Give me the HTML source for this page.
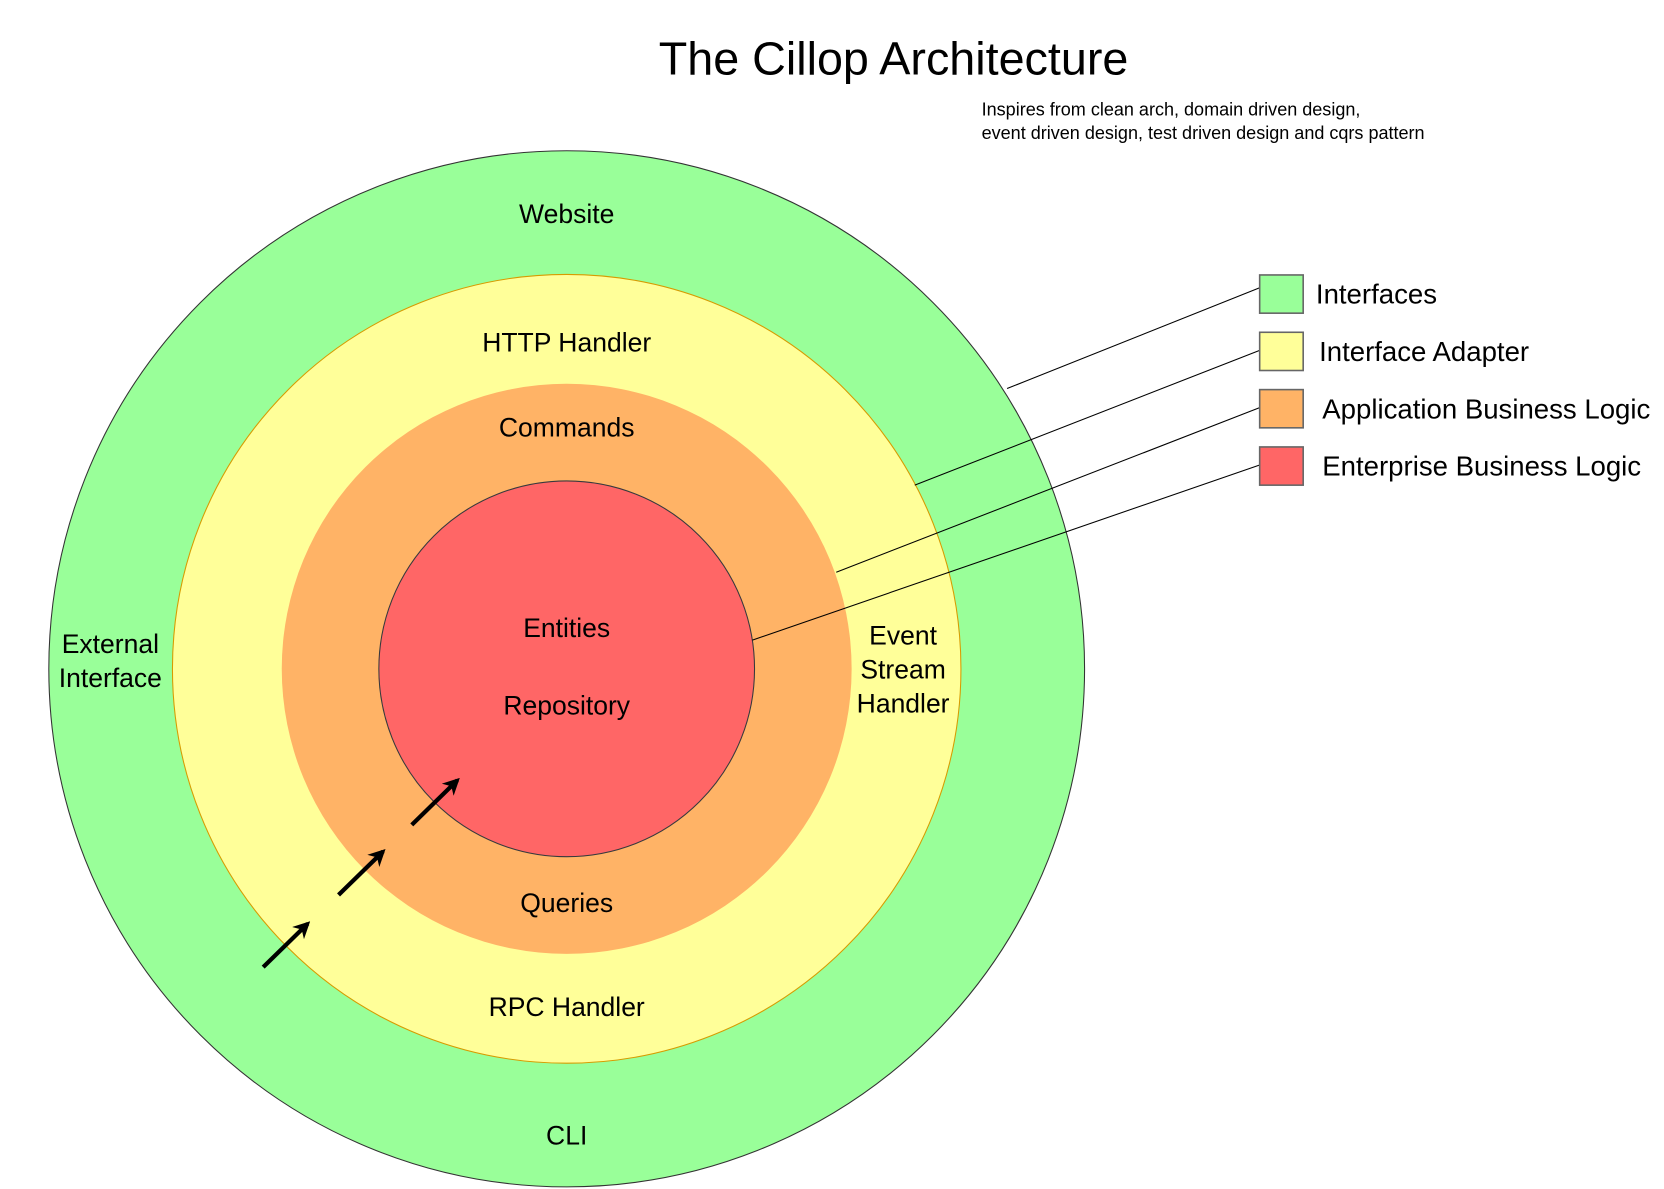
<!DOCTYPE html>
<html><head><meta charset="utf-8"><style>
html,body{margin:0;padding:0;background:#fff;width:1664px;height:1189px;overflow:hidden}
svg{display:block}
text{font-family:"Liberation Sans",sans-serif;fill:#000}
</style></head><body>
<svg width="1664" height="1189" viewBox="0 0 1568 1120" preserveAspectRatio="none" xmlns="http://www.w3.org/2000/svg">
<defs><marker id="ah" viewBox="0 0 10 10" refX="8" refY="5" markerWidth="4" markerHeight="4" orient="auto"><path d="M0,0 L10,5 L0,10 L3,5 z" fill="#000"/></marker></defs>
<text x="842" y="70" font-size="44" text-anchor="middle">The Cillop Architecture</text>
<text x="925" y="109" font-size="17">Inspires from clean arch, domain driven design,</text>
<text x="925" y="131" font-size="17">event driven design, test driven design and cqrs pattern</text>
<circle cx="534" cy="630" r="488" fill="#99ff99" stroke="#333" stroke-width="1"/>
<circle cx="534" cy="630" r="371.5" fill="#ffff99" stroke="#d79b00" stroke-width="1"/>
<circle cx="534" cy="630" r="268.5" fill="#ffb366" stroke="none"/>
<circle cx="534" cy="630" r="177" fill="#ff6666" stroke="#36393d" stroke-width="1"/>
<g stroke="#000" stroke-width="1">
<line x1="949" y1="366" x2="1187" y2="271"/>
<line x1="862" y1="457" x2="1187" y2="330"/>
<line x1="788" y1="539" x2="1187" y2="384"/>
<line x1="709" y1="603" x2="1187" y2="438"/>
</g>
<g stroke="#666" stroke-width="1.5">
<rect x="1187" y="259" width="41" height="36" fill="#99ff99"/>
<rect x="1187" y="313" width="41" height="36" fill="#ffff99"/>
<rect x="1187" y="367" width="41" height="36" fill="#ffb366"/>
<rect x="1187" y="421" width="41" height="36" fill="#ff6666"/>
</g>
<g font-size="26">
<text x="1240" y="286">Interfaces</text>
<text x="1243" y="340">Interface Adapter</text>
<text x="1246" y="394">Application Business Logic</text>
<text x="1246" y="448">Enterprise Business Logic</text>
</g>
<g font-size="25" text-anchor="middle">
<text x="534" y="210">Website</text>
<text x="534" y="331">HTTP Handler</text>
<text x="534" y="411">Commands</text>
<text x="534" y="600">Entities</text>
<text x="534" y="673">Repository</text>
<text x="534" y="859">Queries</text>
<text x="534" y="957">RPC Handler</text>
<text x="534" y="1078">CLI</text>
<text x="104" y="615">External</text>
<text x="104" y="647">Interface</text>
<text x="851" y="607">Event</text>
<text x="851" y="639">Stream</text>
<text x="851" y="671">Handler</text>
</g>
<g stroke="#000" stroke-width="4" marker-end="url(#ah)">
<line x1="248" y1="911" x2="290" y2="870"/>
<line x1="319" y1="843" x2="361" y2="802"/>
<line x1="388" y1="777" x2="431" y2="735"/>
</g>
</svg>
</body></html>
